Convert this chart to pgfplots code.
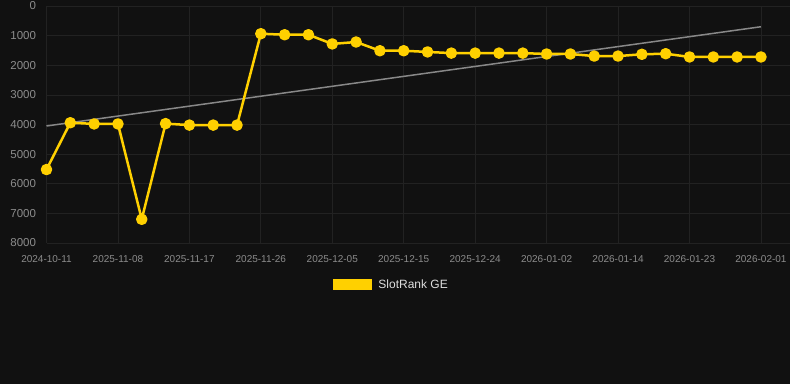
\documentclass[border=0pt]{standalone}
\usepackage{fontspec}
\setmainfont{Liberation Sans}
\usepackage{pgfplots}
\pgfplotsset{compat=1.18}
\definecolor{bg}{HTML}{111111}
\definecolor{gridc}{HTML}{222222}
\definecolor{gold}{HTML}{FFD000}
\definecolor{trend}{HTML}{888888}
\definecolor{lab}{HTML}{8C8C8C}
\definecolor{legtext}{HTML}{DDDDDD}
\begin{document}
\begin{tikzpicture}
\fill[bg] (0pt,0pt) rectangle (790pt,384pt);
\useasboundingbox (0pt,0pt) rectangle (790pt,384pt);
\begin{axis}[
  at={(46.5pt,141pt)}, anchor=south west,
  scale only axis, width=743.5pt, height=237pt,
  xmin=0, xmax=31.22, ymin=0, ymax=8000, y dir=reverse,
  xtick={0,3,...,30},
  xticklabels={2024-10-11,2025-11-08,2025-11-17,2025-11-26,2025-12-05,2025-12-15,2025-12-24,2026-01-02,2026-01-14,2026-01-23,2026-02-01},
  ytick={0,1000,...,8000},
  grid=major, major grid style={draw=gridc, line width=0.7pt},
  axis line style={draw=none}, tick style={draw=none},
  /pgf/number format/assume math mode=true,
  scaled y ticks=false, /pgf/number format/set thousands separator={},
  yticklabel style={text=lab, font=\fontsize{11.5}{13}\selectfont, xshift=-7pt},
  xticklabel style={text=lab, font=\fontsize{10}{12}\selectfont, yshift=-9pt},
  clip=false,
  legend style={at={(0.464,-0.177)}, anchor=center, draw=none, fill=none,
    text=legtext, font=\fontsize{12}{14}\selectfont},
  legend image code/.code={\fill[gold, sharp corners, draw=none] (0pt,-5.5pt) rectangle (39pt,5.5pt); \path (42pt,0pt);},
]
\addplot[trend, line width=1.5pt, forget plot] coordinates {(0,4050) (30,700)};
\addplot[gold, line width=2.5pt, line join=round, mark=*, mark size=4.5pt, mark options={solid, fill=gold, draw=none}] coordinates {
(0,5520) (1,3940) (2,3980) (3,3980) (4,7200) (5,3970) (6,4020) (7,4020) (8,4020)
(9,935) (10,970) (11,970) (12,1280) (13,1215) (14,1510) (15,1510) (16,1550)
(17,1590) (18,1590) (19,1590) (20,1590) (21,1620) (22,1620) (23,1690) (24,1690)
(25,1630) (26,1610) (27,1720) (28,1720) (29,1720) (30,1720)
};
\addlegendentry{SlotRank GE}
\end{axis}
\end{tikzpicture}
\end{document}
